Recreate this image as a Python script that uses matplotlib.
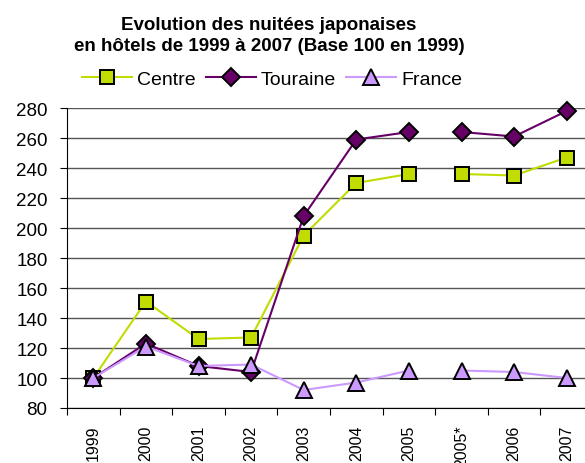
import numpy as np
from matplotlib import pyplot as plt

years = ['1999', '2000', '2001', '2002', '2003', '2004', '2005', '2005*', '2006', '2007']
centre = [100, 151, 126, 127, 195, 230, 236, 236, 235, 247]
touraine = [100, 123, 108, 104, 208, 259, 264, 264, 261, 278]
france = [100, 121, 108, 109, 92, 97, 105, 105, 104, 100]

plt.rcParams['font.family'] = ['Liberation Sans', 'DejaVu Sans']

fig = plt.figure(figsize=(5.85, 4.64), dpi=100)
ax = fig.add_axes([67/585, 55/464, 526/585, 300/464])

x = np.arange(len(years))
series = [
    ('Centre', centre, '#c0dc00', 's', 10),
    ('Touraine', touraine, '#660066', 'D', 9),
    ('France', france, '#cc99ff', '^', 11),
]
# no line between 2005 and 2005*
for name, vals, col, mk, ms in series:
    v = np.array(vals, dtype=float)
    for i, sl in enumerate([slice(0, 7), slice(7, 10)]):
        ax.plot(x[sl], v[sl], color=col, linewidth=1.5, marker=mk, markersize=ms,
                markerfacecolor=col, markeredgecolor='black', markeredgewidth=1.4,
                label=name if i == 0 else None, clip_on=False, zorder=3)

ax.set_xlim(-0.5, 9.5)
ax.set_ylim(80, 280)
ax.set_yticks(range(80, 281, 20))
ax.set_xticks(np.arange(-0.5, 9.5, 1), minor=False)
ax.set_xticklabels([])
ax.set_xticks(x, minor=True)
ax.set_xticklabels(years, minor=True, rotation=90, fontsize=11.5)
ax.tick_params(axis='x', which='minor', length=0, pad=12)
ax.tick_params(axis='x', which='major', length=5, direction='out')
ax.tick_params(axis='y', labelsize=13.5, length=5, pad=9)
ax.grid(True, axis='y', color='#555555', linewidth=1)
ax.set_axisbelow(True)
for s in ['top', 'right']:
    ax.spines[s].set_visible(False)

fig.text(0.46, 0.922, 'Evolution des nuitées japonaises\nen hôtels de 1999 à 2007 (Base 100 en 1999)',
         ha='center', va='center', fontsize=13.5, fontweight='bold', linespacing=1.3)
fig.legend(loc='center', bbox_to_anchor=(0.465, 0.828), ncol=3, frameon=False,
           fontsize=14, handlelength=2.6, columnspacing=0.5, handletextpad=0.25)

plt.savefig('out.png', dpi=100)
